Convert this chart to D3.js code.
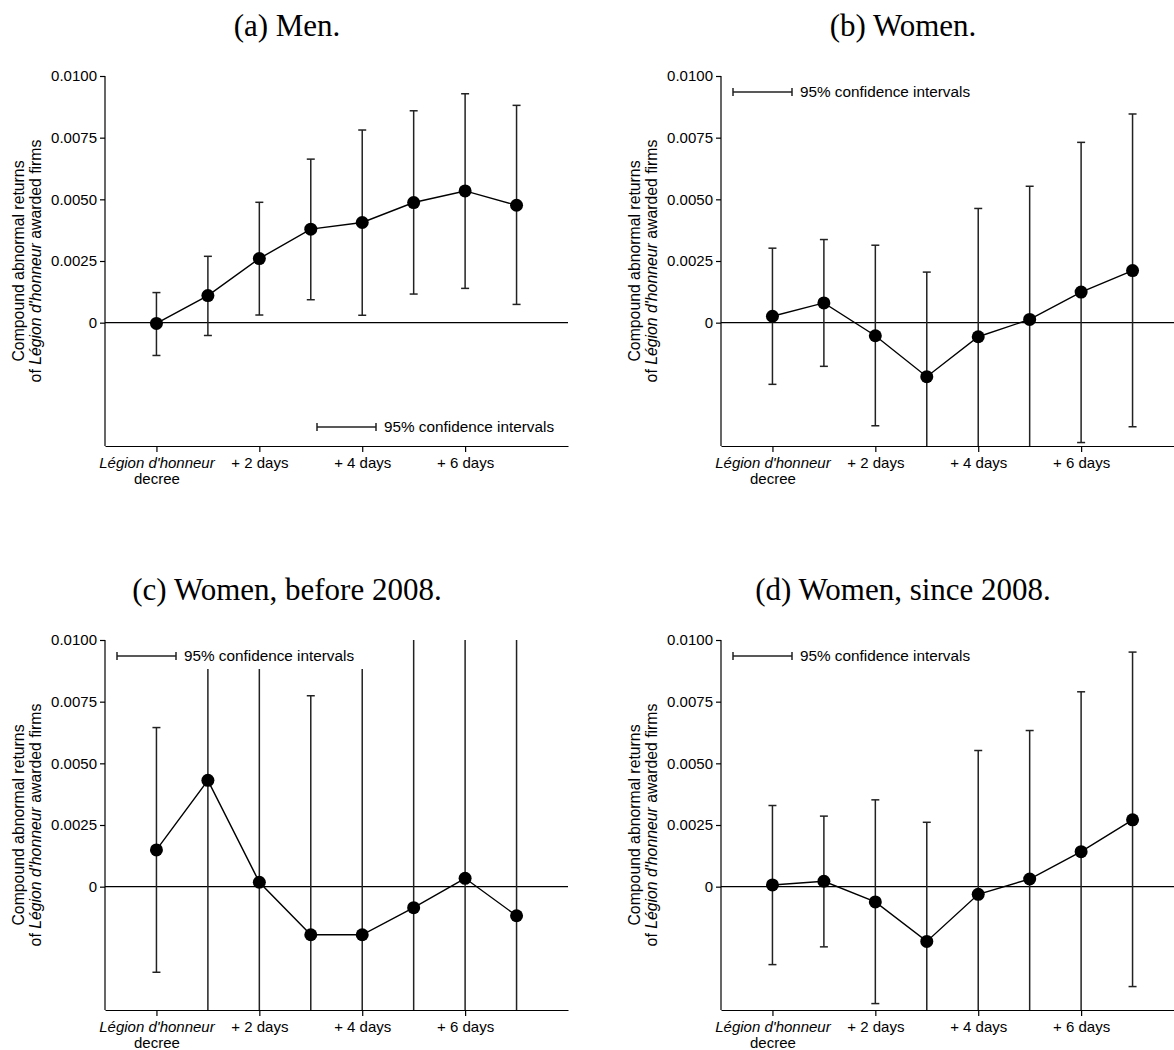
<!DOCTYPE html>
<html>
<head>
<meta charset="utf-8">
<script src="https://cdn.jsdelivr.net/npm/d3@7"></script>
<style>
  body { margin: 0; background: #fff; }
  .tick text, .lab { font-family: "Liberation Sans", Arial, sans-serif; font-size: 15px; fill: #000; }
  .ytitle { font-family: "Liberation Sans", Arial, sans-serif; font-size: 15.8px; fill: #000; }
  .leg { font-family: "Liberation Sans", Arial, sans-serif; font-size: 15.3px; fill: #000; }
  .title { font-family: "Liberation Serif", "Times New Roman", serif; font-size: 31px; fill: #000; }
  .domain, .tick line { stroke: #000; stroke-width: 1.2; }
</style>
</head>
<body>
<div class="chart"></div>
<script>
const days = [0, 1, 2, 3, 4, 5, 6, 7];
const yTicks = [0, 0.0025, 0.005, 0.0075, 0.01];
const xTicks = [0, 2, 4, 6];
const xTickLabels = ["Légion d'honneur|decree", "+ 2 days", "+ 4 days", "+ 6 days"];
const titles = ["(a) Men.", "(b) Women.", "(c) Women, before 2008.", "(d) Women, since 2008."];

// (a) men
const menEst = [-0.00003, 0.0011, 0.0026, 0.00379, 0.00406, 0.00487, 0.00534, 0.00476];
const menLo = [-0.00133, -0.00052, 0.00031, 0.00093, 0.0003, 0.00116, 0.00139, 0.00074];
const menHi = [0.00122, 0.00269, 0.00488, 0.00663, 0.00781, 0.00859, 0.00928, 0.00881];
// (b) women
const womenEst = [0.00026, 0.0008, -0.00053, -0.00219, -0.00057, 0.00013, 0.00124, 0.00211];
const womenLo = [-0.0025, -0.00177, -0.00418, -0.0065, -0.0058, -0.0053, -0.00486, -0.00422];
const womenHi = [0.00302, 0.00337, 0.00314, 0.00205, 0.00463, 0.00553, 0.00731, 0.00846];
// (c) women before 2008
const beforeEst = [0.00149, 0.00431, 0.00018, -0.00195, -0.00195, -0.00085, 0.00034, -0.00118];
const beforeLo = [-0.00347, -0.007, -0.008, -0.009, -0.009, -0.009, -0.009, -0.009];
const beforeHi = [0.00645, 0.013, 0.013, 0.00774, 0.014, 0.014, 0.014, 0.014];
// (d) women since 2008
const sinceEst = [0.00007, 0.00022, -0.00062, -0.00222, -0.00031, 0.00031, 0.00142, 0.00271];
const sinceLo = [-0.00316, -0.00244, -0.00474, -0.007, -0.0065, -0.0058, -0.0052, -0.00405];
const sinceHi = [0.00329, 0.00286, 0.00352, 0.00261, 0.00552, 0.00633, 0.0079, 0.00951];

const panels = [
  { est: menEst, lo: menLo, hi: menHi, ox: 105, oy: 76, legend: "bottom" },
  { est: womenEst, lo: womenLo, hi: womenHi, ox: 721, oy: 76, legend: "top" },
  { est: beforeEst, lo: beforeLo, hi: beforeHi, ox: 105, oy: 640, legend: "top" },
  { est: sinceEst, lo: sinceLo, hi: sinceHi, ox: 721, oy: 640, legend: "top" },
];

const W = 1174, H = 1050;
const pw = 463, ph = 370;

const svg = d3.select(".chart").append("svg").attr("width", W).attr("height", H);

const x = d3.scaleLinear().domain([-1, 8]).range([0, pw]);
const y = d3.scaleLinear().domain([-0.005, 0.01]).range([ph, 0]);
const fmt = (d) => (d === 0 ? "0" : d3.format(".4f")(d));
const capW = 4;

panels.forEach((p, i) => {
  svg.append("text")
    .attr("class", "title")
    .attr("x", p.ox + 182)
    .attr("y", p.oy - 40)
    .attr("text-anchor", "middle")
    .text(titles[i]);

  const g = svg.append("g").attr("transform", "translate(" + p.ox + "," + p.oy + ")");

  g.append("clipPath").attr("id", "clip" + i)
    .append("rect").attr("width", pw).attr("height", ph);

  // y title
  const yt = g.append("text")
    .attr("class", "ytitle")
    .attr("transform", "translate(-81," + ph / 2 + ") rotate(-90)")
    .attr("text-anchor", "middle");
  yt.append("tspan").attr("x", 0).attr("dy", 0).text("Compound abnormal returns");
  const l2 = yt.append("tspan").attr("x", 0).attr("dy", 17);
  l2.append("tspan").text("of ");
  l2.append("tspan").style("font-style", "italic").text("Légion d'honneur");
  l2.append("tspan").text(" awarded firms");

  g.append("g")
    .call(d3.axisLeft(y).tickValues(yTicks).tickFormat(fmt).tickSize(5).tickSizeOuter(0))
    .call((a) => a.select(".domain").attr("d", "M0," + ph + "V" + y(0.01)));

  const xa = g.append("g")
    .attr("transform", "translate(0," + ph + ")")
    .call(d3.axisBottom(x).tickValues(xTicks).tickSize(6).tickSizeOuter(0).tickFormat(""));
  xa.selectAll(".tick text").each(function (d, j) {
    const t = d3.select(this).attr("y", 22).attr("dy", 0);
    const parts = xTickLabels[j].split("|");
    t.append("tspan").attr("x", 0).attr("dy", 0)
      .style("font-style", parts.length > 1 ? "italic" : null).text(parts[0]);
    if (parts.length > 1) t.append("tspan").attr("x", 0).attr("dy", 16).text(parts[1]);
  });

  // zero line
  g.append("line")
    .attr("x1", 0).attr("x2", pw)
    .attr("y1", y(0)).attr("y2", y(0))
    .attr("stroke", "#000").attr("stroke-width", 1.2);

  const plot = g.append("g").attr("clip-path", "url(#clip" + i + ")");
  const rows = days.map((d, k) => ({ d: d, est: p.est[k], lo: p.lo[k], hi: p.hi[k] }));

  const bars = plot.selectAll(".bar").data(rows).enter().append("g").attr("class", "bar");
  bars.append("line")
    .attr("x1", (r) => x(r.d)).attr("x2", (r) => x(r.d))
    .attr("y1", (r) => y(r.lo)).attr("y2", (r) => y(r.hi))
    .attr("stroke", "#222").attr("stroke-width", 1.5);
  ["lo", "hi"].forEach((k) => {
    bars.append("line")
      .attr("x1", (r) => x(r.d) - capW).attr("x2", (r) => x(r.d) + capW)
      .attr("y1", (r) => y(r[k])).attr("y2", (r) => y(r[k]))
      .attr("stroke", "#222").attr("stroke-width", 1.5);
  });

  // legend (white box hides what passes behind it)
  const lg = g.append("g").attr("transform", p.legend === "bottom"
    ? "translate(212," + (ph - 19) + ")"
    : "translate(12,16)");
  if (p.legend === "top") {
    lg.append("rect").attr("x", -8).attr("y", -20).attr("width", 258).attr("height", 33).attr("fill", "#fff");
  }
  lg.append("line").attr("x1", 0).attr("x2", 59).attr("y1", 0).attr("y2", 0)
    .attr("stroke", "#222").attr("stroke-width", 1.5);
  [0, 59].forEach((v) => lg.append("line").attr("x1", v).attr("x2", v).attr("y1", -4).attr("y2", 4)
    .attr("stroke", "#222").attr("stroke-width", 1.5));
  lg.append("text").attr("class", "leg").attr("x", 67).attr("y", 5).text("95% confidence intervals");

  plot.append("path")
    .datum(rows)
    .attr("fill", "none").attr("stroke", "#000").attr("stroke-width", 1.4)
    .attr("d", d3.line().x((r) => x(r.d)).y((r) => y(r.est)));

  plot.selectAll(".pt").data(rows).enter().append("circle")
    .attr("class", "pt")
    .attr("cx", (r) => x(r.d)).attr("cy", (r) => y(r.est))
    .attr("r", 6.5).attr("fill", "#000");
});
</script>
</body>
</html>
